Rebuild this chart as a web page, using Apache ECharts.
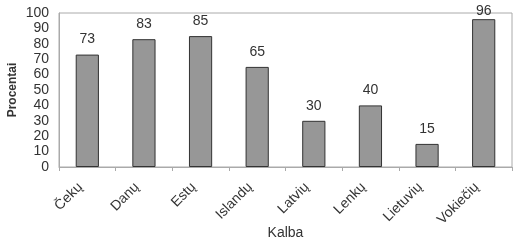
<!DOCTYPE html>
<html>
<head>
<meta charset="utf-8">
<script src="https://cdn.jsdelivr.net/npm/echarts@6/dist/echarts.min.js"></script>
<style>
  html, body { margin: 0; padding: 0; background: #fff; }
  #chart { width: 518px; height: 240px; }
</style>
</head>
<body>
<div id="chart"></div>
<script>
(function() {
    var myChart = echarts.init(document.getElementById('chart'));

    // duomenys
    var categories = ['Čekų', 'Danų', 'Estų', 'Islandų', 'Latvių', 'Lenkų', 'Lietuvių', 'Vokiečių'];
    var values = [73, 83, 85, 65, 30, 40, 15, 96];
    var yTicks = [0, 10, 20, 30, 40, 50, 60, 70, 80, 90, 100];

    var font = 'Liberation Sans, Arial, sans-serif';

    // aukščiausios reikšmės etiketė prigludusi prie stulpelio (kaip Excel)
    var seriesData = values.map(function(v) {
        return v > 90 ? { value: v, label: { distance: 1 } } : v;
    });

    var option = {
        animation: false,
        grid: {
            left: 59,
            right: 6,
            top: 13,
            bottom: 73,
            outerBoundsMode: 'none',
            containLabel: false,
            show: true,
            borderColor: '#aaa',
            borderWidth: 1
        },
        xAxis: {
            type: 'category',
            data: categories,
            name: 'Kalba',
            nameLocation: 'middle',
            nameGap: 59,
            nameMoveOverlap: false,
            nameTextStyle: { fontFamily: font, fontSize: 14, color: '#333' },
            axisLine: { lineStyle: { color: '#aaa' } },
            axisTick: { show: true, length: 4, lineStyle: { color: '#aaa' } },
            axisLabel: {
                rotate: 45,
                fontFamily: font,
                fontSize: 14,
                color: '#333',
                margin: 11,
                padding: [0, 10, 0, 0]
            }
        },
        yAxis: {
            type: 'value',
            min: yTicks[0],
            max: yTicks[yTicks.length - 1],
            interval: 10,
            name: 'Procentai',
            nameLocation: 'middle',
            nameGap: 40,
            nameMoveOverlap: false,
            nameTextStyle: { fontFamily: font, fontSize: 12, fontWeight: 'bold', color: '#333' },
            axisLine: { show: true, lineStyle: { color: '#aaa' } },
            axisTick: { show: false },
            splitLine: { show: false },
            axisLabel: { fontFamily: font, fontSize: 14, color: '#333', margin: 10 }
        },
        series: [{
            type: 'bar',
            data: seriesData,
            barWidth: '41%',
            itemStyle: {
                color: '#979797',
                borderColor: '#333',
                borderWidth: 1
            },
            label: {
                show: true,
                position: 'top',
                distance: 8,
                fontFamily: font,
                fontSize: 14,
                color: '#333'
            }
        }]
    };

    myChart.setOption(option);
    window.addEventListener('resize', function() {
        myChart.resize();
    });
})();
</script>
</body>
</html>
